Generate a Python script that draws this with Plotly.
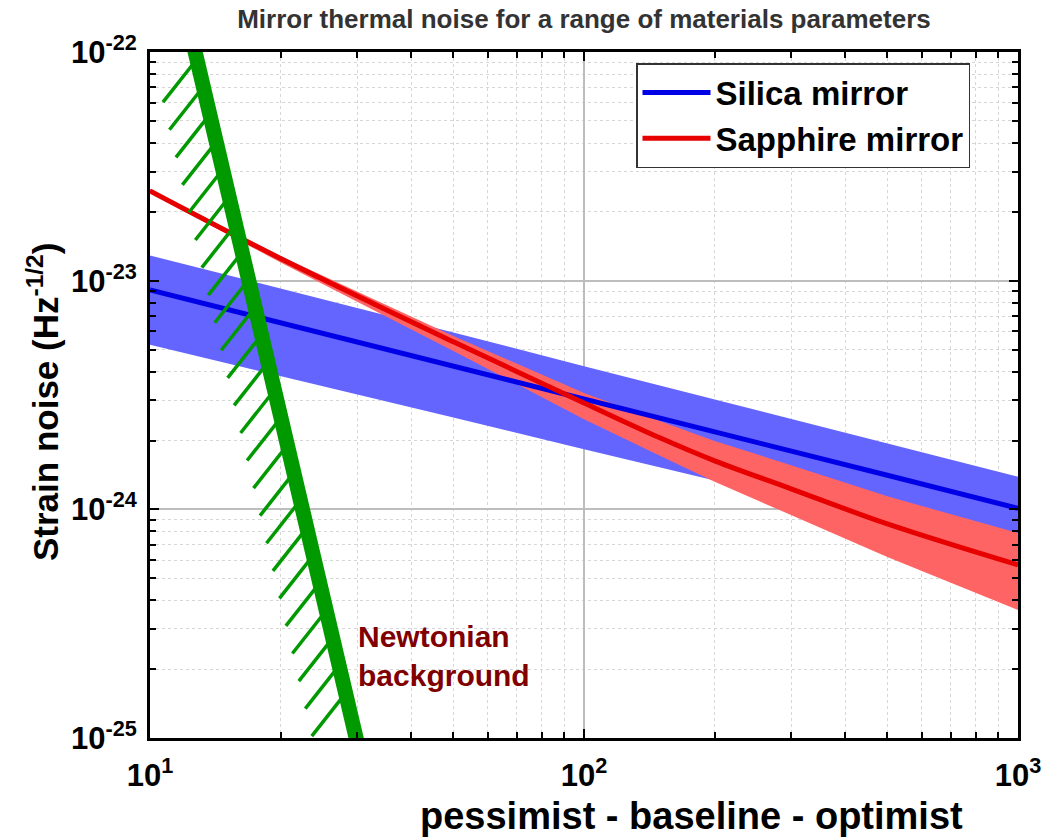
import numpy as np
import plotly.graph_objects as go

# ---------------- data ----------------
silica_freq = [10, 20, 50, 100, 200, 500, 1000]
silica_mid = [9.1e-24, 6.55e-24, 4.23e-24, 3.04e-24, 2.19e-24, 1.41e-24, 1.01e-24]
silica_hi = [1.29e-23, 9.25e-24, 5.94e-24, 4.22e-24, 3.02e-24, 1.94e-24, 1.39e-24]
silica_lo = [5.24e-24, 3.82e-24, 2.52e-24, 1.83e-24, 1.34e-24, 8.81e-25, 6.45e-25]

sapphire_freq = [10, 20, 50, 100, 150, 200, 300, 500, 1000]
sapphire_mid = [2.47e-23, 1.25e-23, 5.40e-24, 2.92e-24, 2.05e-24, 1.63e-24, 1.23e-24, 8.63e-25, 5.71e-25]
sapphire_hi = [2.52e-23, 1.28e-23, 5.73e-24, 3.23e-24, 2.43e-24, 1.99e-24, 1.56e-24, 1.14e-24, 7.88e-25]
sapphire_lo = [2.42e-23, 1.20e-23, 4.93e-24, 2.48e-24, 1.71e-24, 1.32e-24, 9.45e-25, 6.19e-25, 3.63e-25]

newton_f = [12.6, 30.0]
newton_h = [1.07e-22, 9.6e-26]

x_tickvals = [10, 100, 1000]
x_ticktext = ["10<sup>1</sup>", "10<sup>2</sup>", "10<sup>3</sup>"]
y_tickvals = [1e-25, 1e-24, 1e-23, 1e-22]
y_ticktext = ["10<sup>-25</sup>", "10<sup>-24</sup>", "10<sup>-23</sup>", "10<sup>-22</sup>"]
x_minor = [m * d for d in (10, 100) for m in range(2, 10)]
y_minor = [m * d for d in (1e-25, 1e-24, 1e-23) for m in range(2, 10)]

# hatch marks along the Newtonian wall (styling parameters)
HATCH_N = 24
HATCH_TOP = 9.3e-23
HATCH_BOTTOM = 1.57e-25
HATCH_DLOGF = -0.078
HATCH_DLOGH = -0.188

FONT = "Liberation Sans, Arial, Helvetica, sans-serif"
BLUE = "#0000e6"
RED = "#e60000"
BLUE_FILL = "#6464ff"
RED_FILL = "#ff6464"
GREEN = "#009900"

fig = go.Figure()

# bands
fig.add_trace(go.Scatter(
    x=silica_freq + silica_freq[::-1], y=silica_hi + silica_lo[::-1],
    fill="toself", fillcolor=BLUE_FILL, line=dict(width=0),
    mode="lines", showlegend=False, hoverinfo="skip"))
fig.add_trace(go.Scatter(
    x=sapphire_freq + sapphire_freq[::-1], y=sapphire_hi + sapphire_lo[::-1],
    fill="toself", fillcolor=RED_FILL, line=dict(width=0),
    mode="lines", showlegend=False, hoverinfo="skip"))

# central curves
fig.add_trace(go.Scatter(x=silica_freq, y=silica_mid, mode="lines",
                         line=dict(color=BLUE, width=5), name="Silica mirror"))
fig.add_trace(go.Scatter(x=sapphire_freq, y=sapphire_mid, mode="lines",
                         line=dict(color=RED, width=5, shape="spline", smoothing=1.0),
                         name="Sapphire mirror"))

# Newtonian wall hatches
lf0, lf1 = np.log10(newton_f)
lh0, lh1 = np.log10(newton_h)
hx, hy = [], []
for lh in np.linspace(np.log10(HATCH_TOP), np.log10(HATCH_BOTTOM), HATCH_N):
    t = (lh - lh0) / (lh1 - lh0)
    lf = lf0 + t * (lf1 - lf0)
    hx += [10 ** lf, 10 ** (lf + HATCH_DLOGF), None]
    hy += [10 ** lh, 10 ** (lh + HATCH_DLOGH), None]
fig.add_trace(go.Scatter(x=hx, y=hy, mode="lines",
                         line=dict(color=GREEN, width=3.5),
                         showlegend=False, hoverinfo="skip"))
fig.add_trace(go.Scatter(x=newton_f, y=newton_h, mode="lines",
                         line=dict(color=GREEN, width=15),
                         showlegend=False, hoverinfo="skip"))

axis_common = dict(
    type="log", tickmode="array", automargin=False,
    ticks="inside", ticklen=9, tickwidth=2, tickcolor="black",
    showline=True, linecolor="black", linewidth=3, mirror="ticks",
    showgrid=True, gridcolor="#bdbdbd", gridwidth=1.5,
    tickfont=dict(family=FONT, size=31, color="black", weight="bold"),
    zeroline=False,
)

fig.update_layout(
    width=1045, height=840,
    margin=dict(l=150, r=27, t=52, b=102, autoexpand=False),
    paper_bgcolor="white", plot_bgcolor="white",
    title=dict(text="<b>Mirror thermal noise for a range of materials parameters</b>",
               x=0.5, xref="paper", y=0.977, yref="container", yanchor="middle",
               font=dict(family=FONT, size=26, color="#333333")),
    xaxis=dict(axis_common, range=[1, 3], tickvals=x_tickvals, ticktext=x_ticktext,
               ticklabelstandoff=8,
               minor=dict(tickmode="array", tickvals=x_minor, ticks="inside", ticklen=6,
                          tickwidth=1.5, tickcolor="black", showgrid=True,
                          gridcolor="#d6d6d6", griddash="dot", gridwidth=1)),
    yaxis=dict(axis_common, range=[-25, -22], tickvals=y_tickvals, ticktext=y_ticktext,
               ticklabelstandoff=4,
               minor=dict(tickmode="array", tickvals=y_minor, ticks="inside", ticklen=6,
                          tickwidth=1.5, tickcolor="black", showgrid=True,
                          gridcolor="#d6d6d6", griddash="dot", gridwidth=1)),
    legend=dict(x=(636 - 150) / 868, y=(738 - 63) / 686, xanchor="left", yanchor="top",
                bgcolor="white", bordercolor="#333333", borderwidth=1.5,
                font=dict(family=FONT, size=33, color="black", weight="bold"),
                itemwidth=68, tracegroupgap=0),
    annotations=[
        dict(text="<b>Newtonian<br>background</b>", xref="paper", yref="paper",
             x=(356 - 150) / 868, y=(738 - 656) / 686, xanchor="left", yanchor="middle",
             align="left", showarrow=False,
             font=dict(family=FONT, size=30, color="#800000")),
        dict(text="<b>pessimist - baseline - optimist</b>", xref="paper", yref="paper",
             x=(691 - 150) / 868, y=-78 / 686, xanchor="center", yanchor="middle",
             showarrow=False, font=dict(family=FONT, size=38, color="black")),
        dict(text="<b>Strain noise (Hz<sup>-1/2</sup>)</b>", xref="paper", yref="paper",
             x=(43 - 150) / 868, y=(738 - 402) / 686, xanchor="center", yanchor="middle",
             textangle=-90, showarrow=False,
             font=dict(family=FONT, size=35, color="black")),
    ],
)

fig.write_html(
    "out.html",
    config={"displayModeBar": False},
    post_script="document.body.style.margin='0px';document.body.style.overflow='hidden';",
)
